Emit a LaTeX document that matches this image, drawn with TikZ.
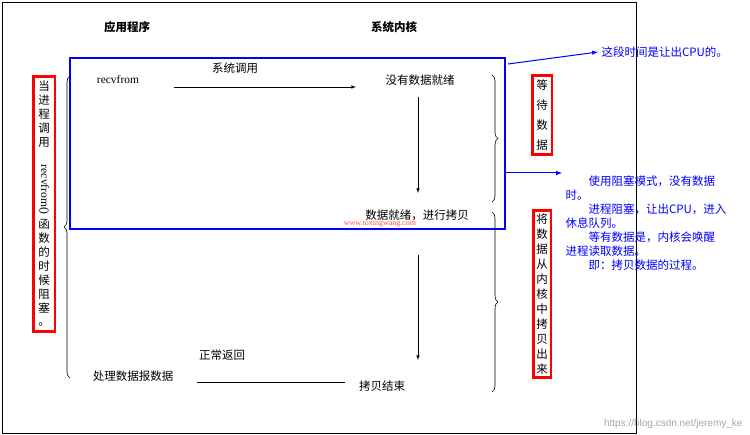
\documentclass[tikz,border=0pt]{standalone}
\usepackage{fontspec}
\setmainfont{Liberation Serif}
\newfontfamily\cjk{Noto Sans CJK SC}
\usetikzlibrary{decorations.pathreplacing}
\begin{document}
\begin{tikzpicture}[x=1pt,y=-1pt,font=\cjk\fontsize{11.5}{13}\selectfont,
  redbox/.style={draw=red,line width=2.5pt,inner sep=3pt,align=center},
  blueline/.style={draw=blue,line width=1pt},
  brace/.style={decorate,decoration={brace,amplitude=6pt},line width=0.6pt}]
\useasboundingbox (0,0) rectangle (750,435);
\draw[line width=0.8pt] (2,2) rectangle (636,433);
% headers
\node(app) at (127,27) {\bfseries 应用程序};
\node(kern) at (394,27) {\bfseries 系统内核};
\draw[draw=blue,line width=2.5pt] (70,58) rectangle (505,229);
% left red box
\node(lbox)[redbox,inner sep=5pt] at (44,204)
  {当\\[1pt]进\\[1pt]程\\[1pt]调\\[1pt]用\\[5pt]\rotatebox{-90}{\fontspec{Liberation Serif}recvfrom()}\\[4pt]函\\[1pt]数\\[1pt]的\\[1pt]时\\[1pt]候\\[1pt]阻\\[1pt]塞\\[0pt]。};
\draw[brace] (70,378) -- (70,76);
% application / kernel flow
\node(recv) at (118,80) {\fontspec{Liberation Serif}recvfrom};
\node(nodata) at (420,80) {没有数据就绪};
\node(ready) at (417,215) {数据就绪，进行拷贝};
\node(done) at (382,386) {拷贝结束};
\node(proc) at (133,376) {处理数据报数据};
\node(ret) at (222,355) {正常返回};
\node(call) at (235,68) {系统调用};
\coordinate(a1) at (174,87);
\coordinate(a2) at (356,87);
\draw[-latex,line width=0.6pt] (a1) -- (a2);
\draw[-latex,line width=0.6pt] (418,97) -- (418,193);
\draw[-latex,line width=0.6pt] (418,255) -- (418,360);
\coordinate(r1) at (197,382);
\coordinate(r2) at (345,382);
\draw[line width=0.6pt] (r1) -- (r2);
% right braces
\draw[brace] (492,75) -- (492,202);
\draw[brace] (492,212) -- (492,392);
\node(wait)[redbox,inner sep=4pt] at (542,115) {等\\[7pt]待\\[7pt]数\\[7pt]据};
\node(copy)[redbox] at (542,294) {将\\[2pt]数\\[2pt]据\\[2pt]从\\[2pt]内\\[2pt]核\\[2pt]中\\[2pt]拷\\[2pt]贝\\[2pt]出\\[2pt]来};
% blue notes
\node(cpu)[anchor=west,text=blue] at (598,52) {这段时间是让出CPU的。};
\draw[blueline,-latex] (508,64) -- (cpu.west);
\coordinate(b1) at (506,173);
\node(note)[anchor=north west,text=blue,align=left,font=\cjk\fontsize{11.5}{14}\selectfont] at (562,172)
  {\hspace*{2em}使用阻塞模式，没有数据\\时。\\\hspace*{2em}进程阻塞，让出CPU，进入\\休息队列。\\\hspace*{2em}等有数据是，内核会唤醒\\进程读取数据。\\\hspace*{2em}即：拷贝数据的过程。};
\draw[blueline,-latex] (b1) -- (562,173);
% watermarks
\node(wm1)[text=red!70,font=\fontsize{8}{9}\selectfont] at (380,224) {www.toxingwang.com};
\node(wm2)[anchor=south east,text=gray!70,font=\fontspec{Liberation Sans}\fontsize{10}{11}\selectfont] at (746,432) {https://blog.csdn.net/jeremy\_ke};
\end{tikzpicture}
\end{document}
